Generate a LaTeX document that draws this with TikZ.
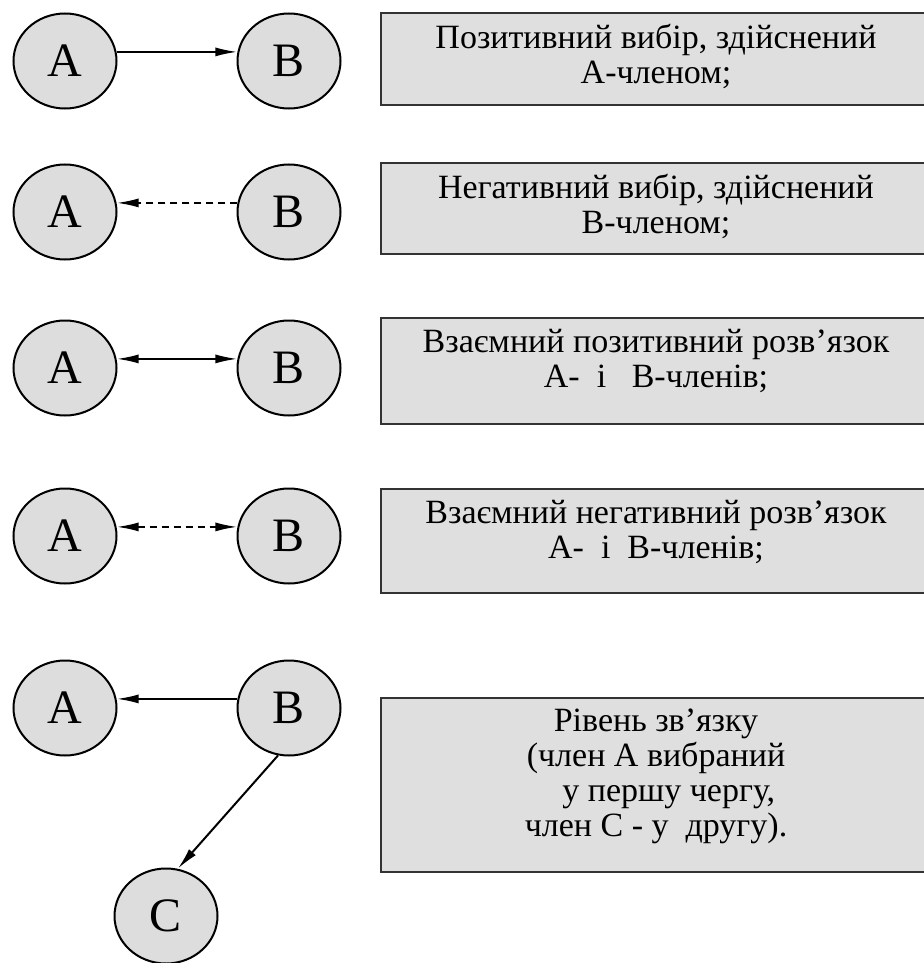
\documentclass[tikz,border=0pt]{standalone}
\usepackage{fontspec}
\setmainfont{Liberation Serif}
\usetikzlibrary{arrows.meta,shapes.geometric}
\begin{document}
\begin{tikzpicture}[x=1pt,y=-1pt,
  circ/.style={draw=black, line width=2pt, fill=circfill, ellipse, minimum width=103pt, minimum height=95pt, inner sep=0pt, font=\fontsize{48}{52}\selectfont},
  infobox/.style={draw=black!80, line width=2pt, fill=boxfill},
  boxtext/.style={align=center, anchor=north, font=\fontsize{34}{35}\selectfont, inner sep=0pt},
  link/.style={line width=2pt, draw=black},
  arr/.tip={Latex[length=22pt,width=9pt]},
  tip/.style={-arr},
  dashlink/.style={link, dash pattern=on 7pt off 5pt}
]
\definecolor{circfill}{RGB}{221,221,221}
\definecolor{boxfill}{RGB}{223,223,223}
\useasboundingbox (0,0) rectangle (923,963);
% row 1
\node[circ] (a1) at (65,61) {A};
\node[circ] (b1) at (289,61) {B};
\draw[link,tip] (a1.10) -- (b1.170);
\draw[infobox] (381,13) rectangle (935,105);
\node[boxtext] (t1) at (656,24) {Позитивний вибір, здійснений\\А-членом;};
% row 2
\node[circ] (a2) at (65,212) {A};
\node[circ] (b2) at (289,212) {B};
\draw[dashlink,tip] (b2.170) -- (a2.10);
\draw[infobox] (381,163) rectangle (935,254);
\node[boxtext] (t2) at (656,174) {Негативний вибір, здійснений\\В-членом;};
% row 3
\node[circ] (a3) at (65,368) {A};
\node[circ] (b3) at (289,368) {B};
\draw[link,arr-arr] (a3.10) -- (b3.170);
\draw[infobox] (381,318) rectangle (935,424);
\node[boxtext] (t3) at (656,329) {Взаємний позитивний розв’язок\\А-\ \ і \ \ В-членів;};
% row 4
\node[circ] (a4) at (65,536) {A};
\node[circ] (b4) at (289,536) {B};
\draw[dashlink,arr-arr] (a4.10) -- (b4.170);
\draw[infobox] (381,489) rectangle (935,593);
\node[boxtext] (t4) at (656,500) {Взаємний негативний розв’язок\\А- \ і \ В-членів;};
% row 5
\node[circ] (a5) at (65,708) {A};
\node[circ] (b5) at (289,708) {B};
\node[circ] (c5) at (166,916) {C};
\draw[link,tip] (b5.170) -- (a5.10);
\draw[link,tip] (b5.-103) -- (c5.76);
\draw[infobox] (381,698) rectangle (935,872);
\node[boxtext] (t5) at (656,709) {Рівень зв’язку\\(член А вибраний\\\ \ \ у першу чергу,\\член С - у \ другу).};
\end{tikzpicture}
\end{document}
